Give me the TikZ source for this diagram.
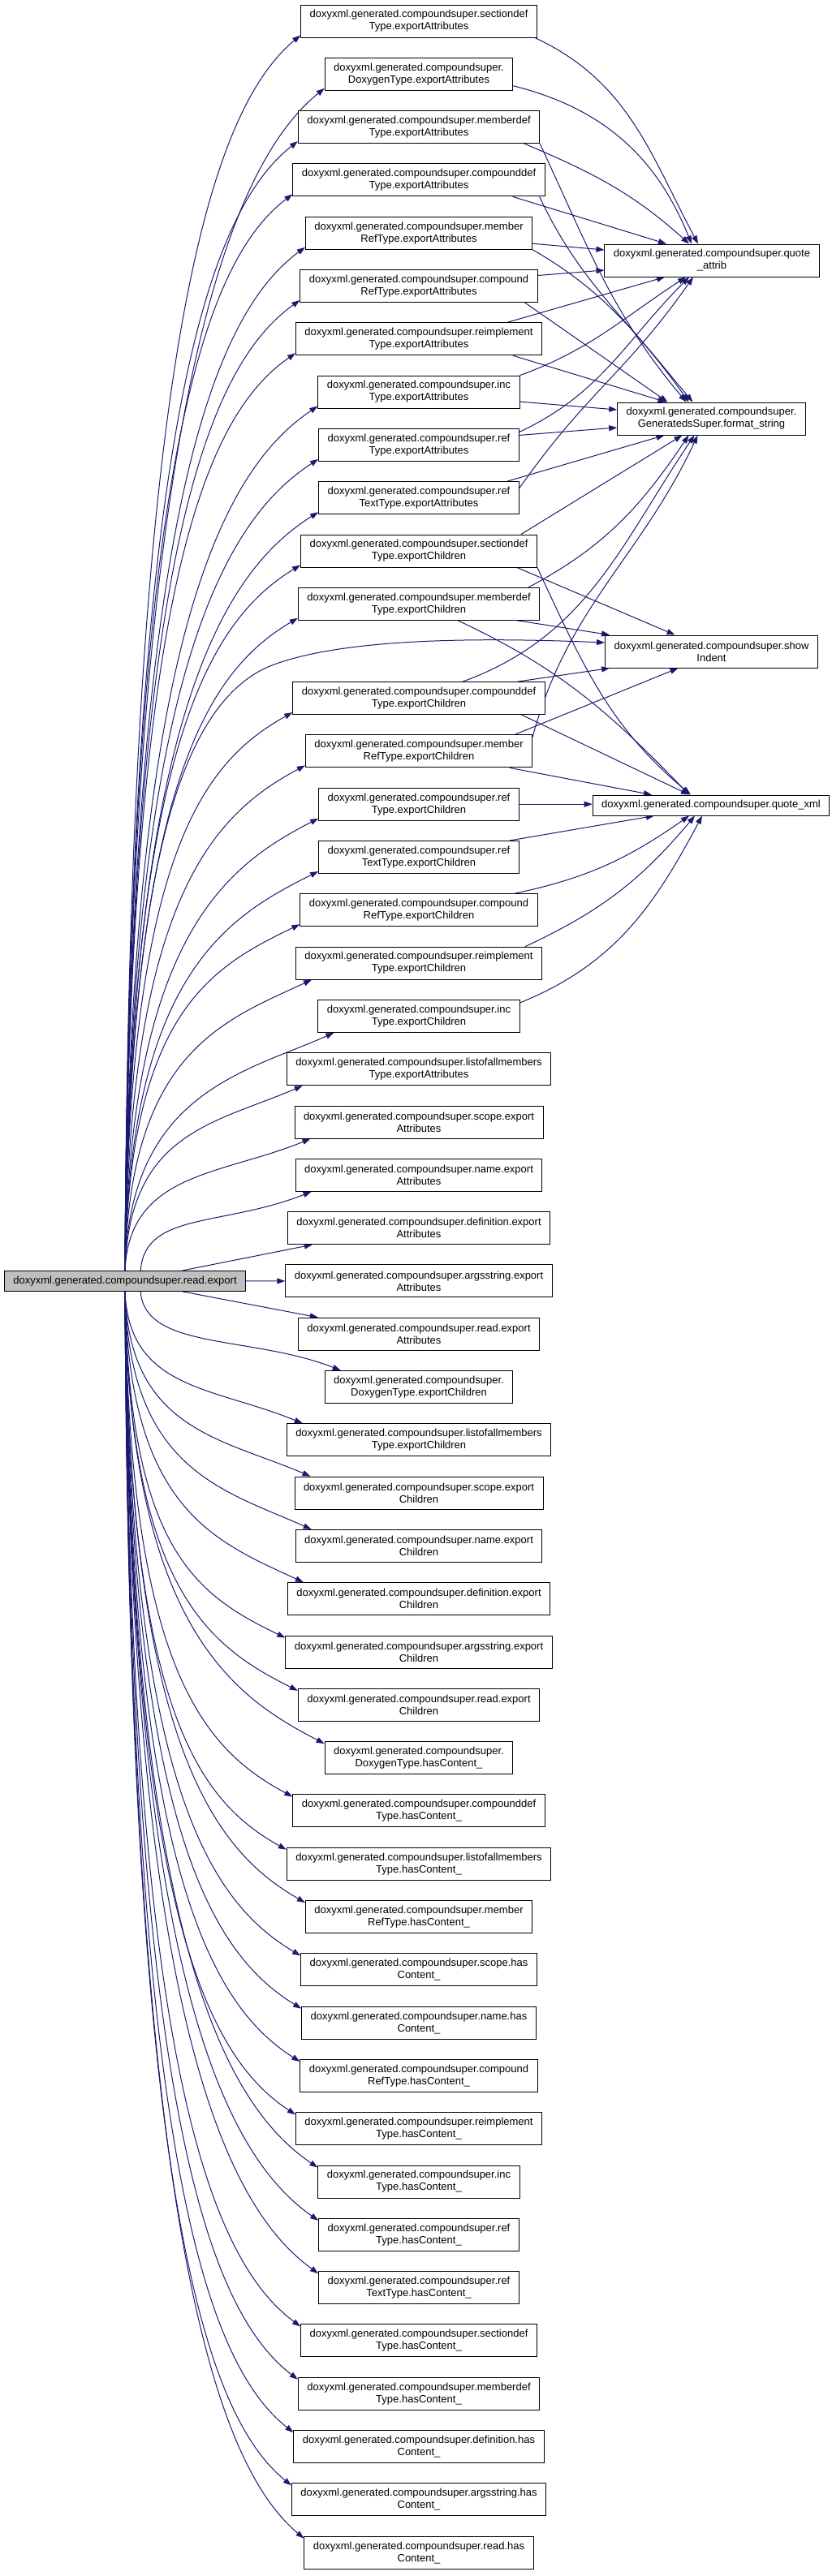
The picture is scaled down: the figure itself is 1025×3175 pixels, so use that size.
\documentclass[tikz,border=0pt]{standalone}
\usepackage{fontspec}
\setmainfont{Liberation Sans}
\usetikzlibrary{arrows.meta,calc}
\definecolor{mblue}{HTML}{191970}
\definecolor{rootgray}{HTML}{BFBFBF}
\pgfdeclarelayer{bg}
\pgfsetlayers{bg,main}
\tikzset{
  box/.style={draw=black, line width=1pt, fill=white, align=center, inner xsep=11pt, inner ysep=2pt, font=\fontsize{13pt}{15pt}\selectfont},
  boxtwo/.style={box, minimum height=40pt},
  boxone/.style={box, minimum height=25pt},
  edg/.style={draw=mblue, line width=1pt, -{Triangle[length=10pt,width=7pt]}},
}
\begin{document}
\begin{tikzpicture}[x=1pt,y=1pt]
\useasboundingbox (0,0) rectangle (1025,-3175);
\node[boxone, fill=rootgray] (root) at (154,-1578.9) {doxyxml.generated.compoundsuper.read.export};
\foreach \i/\ta/\tb in {
 0/sectiondef/Type.exportAttributes,
 1//DoxygenType.exportAttributes,
 2/memberdef/Type.exportAttributes,
 3/compounddef/Type.exportAttributes,
 4/member/RefType.exportAttributes,
 5/compound/RefType.exportAttributes,
 6/reimplement/Type.exportAttributes,
 7/inc/Type.exportAttributes,
 8/ref/Type.exportAttributes,
 9/ref/TextType.exportAttributes,
 10/sectiondef/Type.exportChildren,
 11/memberdef/Type.exportChildren,
 12/compounddef/Type.exportChildren,
 13/member/RefType.exportChildren,
 14/ref/Type.exportChildren,
 15/ref/TextType.exportChildren,
 16/compound/RefType.exportChildren,
 17/reimplement/Type.exportChildren,
 18/inc/Type.exportChildren,
 19/listofallmembers/Type.exportAttributes,
 20/scope.export/Attributes,
 21/name.export/Attributes,
 22/definition.export/Attributes,
 23/argsstring.export/Attributes,
 24/read.export/Attributes,
 25//DoxygenType.exportChildren,
 26/listofallmembers/Type.exportChildren,
 27/scope.export/Children,
 28/name.export/Children,
 29/definition.export/Children,
 30/argsstring.export/Children,
 31/read.export/Children,
 32//DoxygenType.hasContent\_,
 33/compounddef/Type.hasContent\_,
 34/listofallmembers/Type.hasContent\_,
 35/member/RefType.hasContent\_,
 36/scope.has/Content\_,
 37/name.has/Content\_,
 38/compound/RefType.hasContent\_,
 39/reimplement/Type.hasContent\_,
 40/inc/Type.hasContent\_,
 41/ref/Type.hasContent\_,
 42/ref/TextType.hasContent\_,
 43/sectiondef/Type.hasContent\_,
 44/memberdef/Type.hasContent\_,
 45/definition.has/Content\_,
 46/argsstring.has/Content\_,
 47/read.has/Content\_} {
  \pgfmathsetmacro\vY{\i<12 ? 26+65.3*\i : 77+65.3*\i}
  \node[boxtwo] (m\i) at (516,-\vY) {doxyxml.generated.compoundsuper.\ta\\\tb};
}
\node[boxtwo] (qa) at (877,-321) {doxyxml.generated.compoundsuper.quote\\\_attrib};
\node[boxtwo] (fs) at (876.5,-516) {doxyxml.generated.compoundsuper.\\GeneratedsSuper.format\_string};
\node[boxtwo] (si) at (876.5,-803) {doxyxml.generated.compoundsuper.show\\Indent};
\node[boxone] (qx) at (876,-992.5) {doxyxml.generated.compoundsuper.quote\_xml};

\begin{pgfonlayer}{bg}
% root fan
\foreach \i in {0,...,47} {
  \pgfmathsetmacro\vY{\i<12 ? 26+65.3*\i : 77+65.3*\i}
  \ifnum\i<23
    \pgfmathsetmacro\vD{1578.9-(\vY+17)}
  \else
    \pgfmathsetmacro\vD{(\vY-17)-1578.9}
  \fi
  \pgfmathsetmacro\vR{\vD/1540}
  \pgfmathsetmacro\vS{71*max(0,1-(\vD-48)/90)}
  \pgfmathsetmacro\vX{\vS+5}
  \pgfmathsetmacro\vA{0.75*\vD}
  \pgfmathsetmacro\vT{20+20*\vR}
  \pgfmathsetmacro\vB{110*tan(\vT)}
  \pgfmathsetmacro\vE{\vD<400 ? 1 : 0}
  \pgfmathsetmacro\vF{20*\vE}
  \pgfmathsetmacro\vG{3*(1-\vE)}
  \ifnum\i<22
    \draw[edg] ($(root.north)+(\vS,0)$) .. controls ($(root.center)+(\vX,\vA)$) and ($(m\i.south west)+(\vF-110,\vG-\vB)$) .. ($(m\i.south west)+(\vF,\vG)$);
  \fi
  \ifnum\i>24
    \draw[edg] ($(root.south)+(\vS,0)$) .. controls ($(root.center)+(\vX,-\vA)$) and ($(m\i.north west)+(\vF-110,\vB-\vG)$) .. ($(m\i.north west)+(\vF,-\vG)$);
  \fi
}
\draw[edg] ($(root.north)+(71,0)$) -- ($(m22.south west)+(31,0)$);
\draw[edg] (root.east) -- (m23.west);
\draw[edg] ($(root.south)+(71,0)$) -- ($(m24.north west)+(25,0)$);
\draw[edg] (root.north) .. controls (160,-1150) and (200,-880) .. (330,-822) .. controls (420,-785) and (600,-786) .. ($(si.west)+(0,11)$);

% exportAttributes -> quote_attrib / format_string
\draw[edg] ($(m0.south east)+(-3,0)$) to[out=-25,in=118] ($(qa.north)+(-17,0)$);
\draw[edg] ($(m1.south east)+(0,6)$) to[out=-14,in=112] ($(qa.north)+(-25,0)$);
\draw[edg] ($(m2.south east)+(-19,0)$) to[out=-23,in=138] ($(qa.north)+(-28,0)$);
\draw[edg] (m2.south east) to[out=-65,in=130] ($(fs.north)+(-31,0)$);
\draw[edg] ($(m3.south east)+(-40,0)$) -- ($(qa.north)+(-56,0)$);
\draw[edg] ($(m3.south east)+(-7,0)$) to[out=-65,in=125] ($(fs.north)+(-28,0)$);
\draw[edg] ($(m4.east)+(0,-13)$) -- ($(qa.west)+(0,13)$);
\draw[edg] (m4.south east) to[out=-30,in=130] ($(fs.north)+(-23,0)$);
\draw[edg] ($(m5.east)+(0,13)$) -- ($(qa.west)+(0,-12)$);
\draw[edg] ($(m5.south east)+(-16,0)$) -- ($(fs.north)+(-54,0)$);
\draw[edg] ($(m6.north east)+(-43,0)$) -- ($(qa.south)+(-58,0)$);
\draw[edg] ($(m6.south east)+(-36,0)$) -- ($(fs.north)+(-56,0)$);
\draw[edg] (m7.north east) to[out=20,in=213] ($(qa.south)+(-32,0)$);
\draw[edg] ($(m7.east)+(0,-12)$) -- ($(fs.west)+(0,11)$);
\draw[edg] ($(m8.east)+(0,16)$) to[out=25,in=225] ($(qa.south)+(-28,0)$);
\draw[edg] ($(m8.east)+(0,12)$) -- ($(fs.west)+(0,-11)$);
\draw[edg] ($(m9.north east)+(-15,0)$) -- ($(fs.south)+(-58,0)$);
\draw[edg] ($(m9.east)+(0,12)$) to[out=55,in=235,looseness=1.1] ($(qa.south)+(-23,0)$);

% exportChildren -> format_string / showIndent / quote_xml
\draw[edg] ($(m10.north east)+(-20,0)$) -- ($(fs.south)+(-36,0)$);
\draw[edg] ($(m10.south east)+(-25,0)$) -- ($(si.north)+(-45,0)$);
\draw[edg] (m10.south east) to[out=-65,in=140] ($(qx.north)+(-25,0)$);
\draw[edg] ($(m11.north east)+(-14,0)$) to[out=28,in=236] ($(fs.south)+(-28,0)$);
\draw[edg] ($(m11.south east)+(-28,0)$) -- ($(si.north west)+(6,0)$);
\draw[edg] ($(m11.south)+(48,0)$) to[out=-25,in=134] ($(qx.north)+(-27,0)$);
\draw[edg] ($(m12.north)+(54,0)$) to[out=20,in=236] ($(fs.south)+(-21,0)$);
\draw[edg] ($(m12.north east)+(-34,0)$) -- ($(si.south west)+(6,0)$);
\draw[edg] ($(m12.south east)+(-29,0)$) -- ($(qx.north)+(-27,0)$);
\draw[edg] ($(m13.north east)+(0,-3)$) to[out=75,in=245] ($(fs.south)+(-17,0)$);
\draw[edg] ($(m13.north east)+(-22,0)$) -- ($(si.south)+(-41,0)$);
\draw[edg] ($(m13.south east)+(-28,0)$) -- ($(qx.north)+(-73,0)$);
\draw[edg] (m14.east) -- (m14.east -| qx.west);
\draw[edg] ($(m15.north east)+(-12,0)$) -- ($(qx.south)+(-70,0)$);
\draw[edg] ($(m16.north east)+(-29,0)$) to[out=12,in=215] ($(qx.south)+(-27,0)$);
\draw[edg] ($(m17.north east)+(-21,0)$) to[out=25,in=230] ($(qx.south)+(-20,0)$);
\draw[edg] ($(m18.north east)+(0,-4)$) to[out=22,in=242] ($(qx.south)+(-11,0)$);
\end{pgfonlayer}
\end{tikzpicture}
\end{document}
